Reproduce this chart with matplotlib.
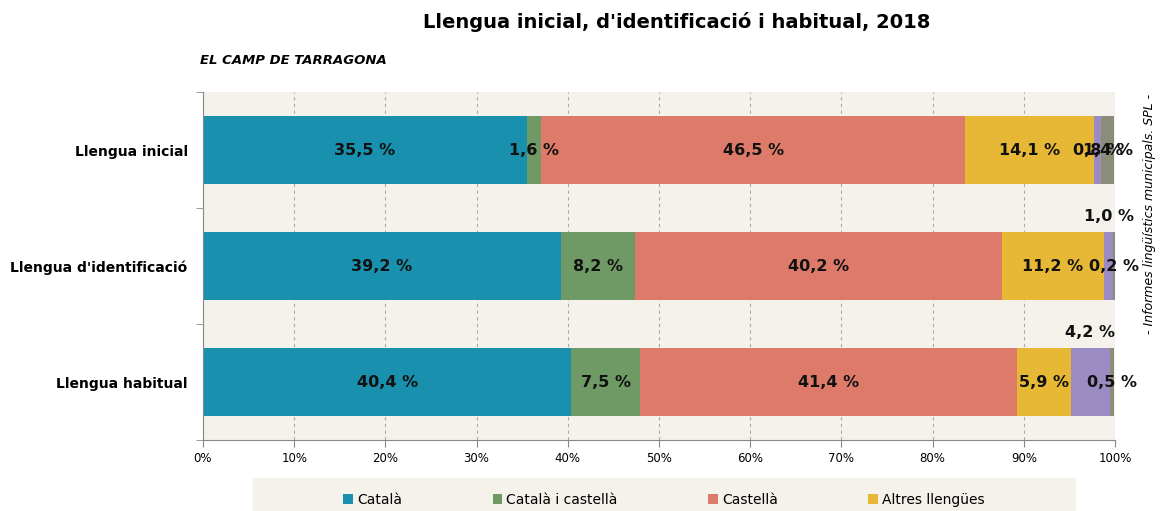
import matplotlib.pyplot as plt
import numpy as np

# categories (top to bottom) and the share of each language group
categories = ["Llengua inicial", "Llengua d'identificació", "Llengua habitual"]
series_names = ["Català", "Català i castellà", "Castellà", "Altres llengües",
                "Altres combinacions", "No ho sap / No contesta"]
catala = [35.5, 39.2, 40.4]
catala_castella = [1.6, 8.2, 7.5]
castella = [46.5, 40.2, 41.4]
altres = [14.1, 11.2, 5.9]
altres_comb = [0.8, 1.0, 4.2]
nsnc = [1.4, 0.2, 0.5]
xticks = [0, 10, 20, 30, 40, 50, 60, 70, 80, 90, 100]

colors = ["#1890AE", "#6F9A65", "#DD7A6A", "#E6B835", "#9A8BC3", "#8C8D78"]
bg = "#F5F1EB"

values = [catala, catala_castella, castella, altres, altres_comb, nsnc]

fig = plt.figure(figsize=(11.63, 5.11), dpi=100)
ax = fig.add_axes([203 / 1163, 1 - 440 / 511, 912 / 1163, 348 / 511])
ax.set_facecolor(bg)

y = np.arange(len(categories))
left = np.zeros(len(categories))
for i, (name, vals) in enumerate(zip(series_names, values)):
    vals = np.array(vals)
    ax.barh(y, vals, left=left, height=0.58, color=colors[i], label=name, zorder=2)
    for j, v in enumerate(vals):
        cx = left[j] + v / 2
        cy = y[j]
        # small purple slices in the lower rows get their label above the bar
        if i == 4 and j > 0:
            cy = y[j] - 0.43
        txt = f"{v:.1f} %".replace(".", ",")
        ax.text(cx, cy, txt, ha="center", va="center", fontsize=11.5,
                fontweight="bold", color="#111111", zorder=3)
    left += vals

ax.set_xlim(0, 100)
ax.set_ylim(2.5, -0.5)
ax.set_xticks(xticks)
ax.set_xticklabels([f"{t}%" for t in xticks], fontsize=8.5)
ax.set_yticks(y)
ax.set_yticklabels(categories, fontsize=10, fontweight="bold")
ax.tick_params(axis="y", length=0, pad=11)
ax.tick_params(axis="x", length=5, color="#888888", direction="out")
ax.set_yticks([-0.5, 0.5, 1.5, 2.5], minor=True)
ax.tick_params(axis="y", which="minor", length=5, color="#888888")
ax.grid(axis="x", linestyle=(0, (3, 3)), color="#AAAAAA", linewidth=0.8, zorder=0)
for s in ["top", "right"]:
    ax.spines[s].set_visible(False)
ax.spines["left"].set_color("#888888")
ax.spines["bottom"].set_color("#888888")

fig.text(677 / 1163, 1 - 22 / 511, "Llengua inicial, d'identificació i habitual, 2018",
         ha="center", va="center", fontsize=14, fontweight="bold")
fig.text(200 / 1163, 1 - 60 / 511, "EL CAMP DE TARRAGONA", ha="left", va="center",
         fontsize=9.5, fontweight="bold", style="italic")
fig.text(1150 / 1163, 1 - 214 / 511, "- Informes lingüístics municipals. SPL -",
         ha="center", va="center", rotation=90, fontsize=9, style="italic")

# legend band under the chart
fig.patches.append(plt.Rectangle((253 / 1163, 0), 822 / 1163, 33 / 511,
                                 transform=fig.transFigure, color=bg, zorder=-1))
handles, labels = ax.get_legend_handles_labels()
leg = fig.legend(handles[:4], labels[:4], loc="center",
                 bbox_to_anchor=(253 / 1163, 0, 822 / 1163, 22 / 511),
                 ncol=4, frameon=False, fontsize=10, handlelength=0.7,
                 handleheight=0.7, handletextpad=0.3, columnspacing=6.5,
                 borderaxespad=0)

fig.savefig("out.png", dpi=100)
